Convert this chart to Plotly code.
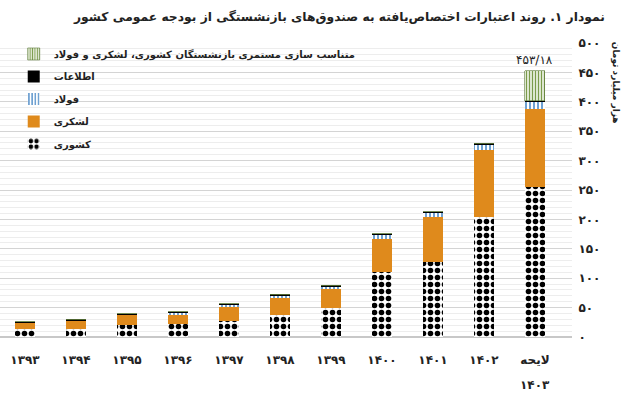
import plotly.graph_objects as go

categories = ["۱۳۹۳", "۱۳۹۴", "۱۳۹۵", "۱۳۹۶", "۱۳۹۷", "۱۳۹۸", "۱۳۹۹", "۱۴۰۰", "۱۴۰۱", "۱۴۰۲", "لایحه ۱۴۰۳"]
keshvari = [13, 13, 20, 21.5, 27, 37, 49, 111, 128, 203.5, 255.5]
lashkari = [11, 15, 17.5, 17, 24.5, 31, 32, 56, 76.5, 114.5, 132.5]
foolad = [0, 0, 0, 3, 3, 3, 5.5, 7, 7, 10, 12]
ettelaat = [1.5, 1, 1, 1, 1, 1, 1, 1, 1, 1, 1.5]
tanasob = [0, 0, 0, 0, 0, 0, 0, 0, 0, 0, 51.68]
total_label = "۴۵۳/۱۸"
y_tickvals = [0, 50, 100, 150, 200, 250, 300, 350, 400, 450, 500]
y_ticktext = ["۰", "۵۰", "۱۰۰", "۱۵۰", "۲۰۰", "۲۵۰", "۳۰۰", "۳۵۰", "۴۰۰", "۴۵۰", "۵۰۰"]

names = ["کشوری", "لشکری", "فولاد", "اطلاعات",
         "متناسب سازی مستمری بازنشستگان کشوری، لشکری و فولاد"]

FONT = "DejaVu Sans"
x = list(range(len(categories)))
bw = 0.39
first_lines = [c.split(" ")[0] for c in categories]
second_lines = [c.split(" ")[1] if " " in c else "" for c in categories]

fig = go.Figure()
fig.add_bar(x=x, y=keshvari, name=names[0], width=bw, legendgroup="a", legendrank=5,
            marker=dict(color="white", line=dict(width=0),
                        pattern=dict(shape=".", fgcolor="black", bgcolor="white", fgopacity=1,
                                     size=7, solidity=0.5, fillmode="replace")))
fig.add_bar(x=x, y=lashkari, name=names[1], width=bw, legendgroup="b", legendrank=4,
            marker=dict(color="#DF8A1C", line=dict(width=0)))
fig.add_bar(x=x, y=foolad, name=names[2], width=bw, legendgroup="c", legendrank=3,
            marker=dict(color="white", line=dict(width=0),
                        pattern=dict(shape="|", fgcolor="#5F97CC", bgcolor="white", fgopacity=1,
                                     size=4, solidity=0.45, fillmode="replace")))
fig.add_bar(x=x, y=ettelaat, name=names[3], width=bw, legendgroup="d", legendrank=2,
            marker=dict(color="black", line=dict(width=0)))
fig.add_bar(x=x, y=tanasob, name=names[4], width=bw, legendgroup="e", legendrank=1,
            marker=dict(color="white", line=dict(width=0.6, color="#5E7A3A"),
                        pattern=dict(shape="|", fgcolor="#7B9B4B", bgcolor="#F2F6EC", fgopacity=1,
                                     size=3, solidity=0.45, fillmode="replace")))

tot = [a + b + c + d + e for a, b, c, d, e in zip(keshvari, lashkari, foolad, ettelaat, tanasob)]
fig.add_annotation(x=x[-1], y=tot[-1], text=total_label, showarrow=False,
                   yanchor="bottom", yshift=2, font=dict(family=FONT, size=12, color="#222"))

for xi, s in zip(x, second_lines):
    if s:
        fig.add_annotation(x=xi, xref="x", yref="paper", y=-0.163, text=s, showarrow=False,
                           xanchor="center", yanchor="middle",
                           font=dict(family=FONT, size=12, color="#222", weight="bold"))

fig.add_annotation(xref="paper", yref="paper", x=1.075, y=0.865,
                   xanchor="center", yanchor="middle",
                   text="هزار میلیارد تومان", textangle=90, showarrow=False,
                   font=dict(family=FONT, size=9, color="#222", weight="bold"))

fig.update_layout(
    width=640, height=399,
    margin=dict(l=0, r=68, t=43, b=62, autoexpand=False),
    paper_bgcolor="white", plot_bgcolor="white",
    barmode="stack", bargap=0,
    title=dict(text="نمودار ۱. روند اعتبارات اختصاص\u200cیافته به صندوق\u200cهای بازنشستگی از بودجه عمومی کشور",
               x=0.945, xanchor="right", y=0.957, yanchor="middle",
               font=dict(family=FONT, size=12.3, color="#222", weight="bold")),
    legend=dict(x=0.024, xanchor="left", y=1.012, yanchor="top",
                traceorder="grouped", tracegroupgap=3.5,
                bgcolor="rgba(0,0,0,0)",
                font=dict(family=FONT, size=10, color="#222", weight="bold")),
    showlegend=True,
    font=dict(family=FONT, color="#222"),
)
fig.update_xaxes(range=[-0.49, 10.726], tickvals=x, ticktext=first_lines, automargin=False,
                 showgrid=False, zeroline=False, showline=False,
                 ticks="outside", ticklen=12, tickcolor="rgba(0,0,0,0)",
                 tickfont=dict(family=FONT, size=12, color="#222", weight="bold"))
fig.update_yaxes(range=[0, 500], side="right", tickvals=y_tickvals, ticktext=y_ticktext,
                 automargin=False,
                 showgrid=True, gridcolor="#D4D4D4", gridwidth=1,
                 minor=dict(dtick=10, tick0=0, showgrid=True, gridcolor="#EDEDED", gridwidth=1),
                 zeroline=True, zerolinecolor="#C8C8C8", showline=False,
                 ticks="outside", ticklen=3, tickcolor="rgba(0,0,0,0)",
                 tickfont=dict(family=FONT, size=12, color="#222", weight="bold"))

fig.write_html("out.html", config={"displayModeBar": False},
               post_script="document.body.style.margin='0px';")
